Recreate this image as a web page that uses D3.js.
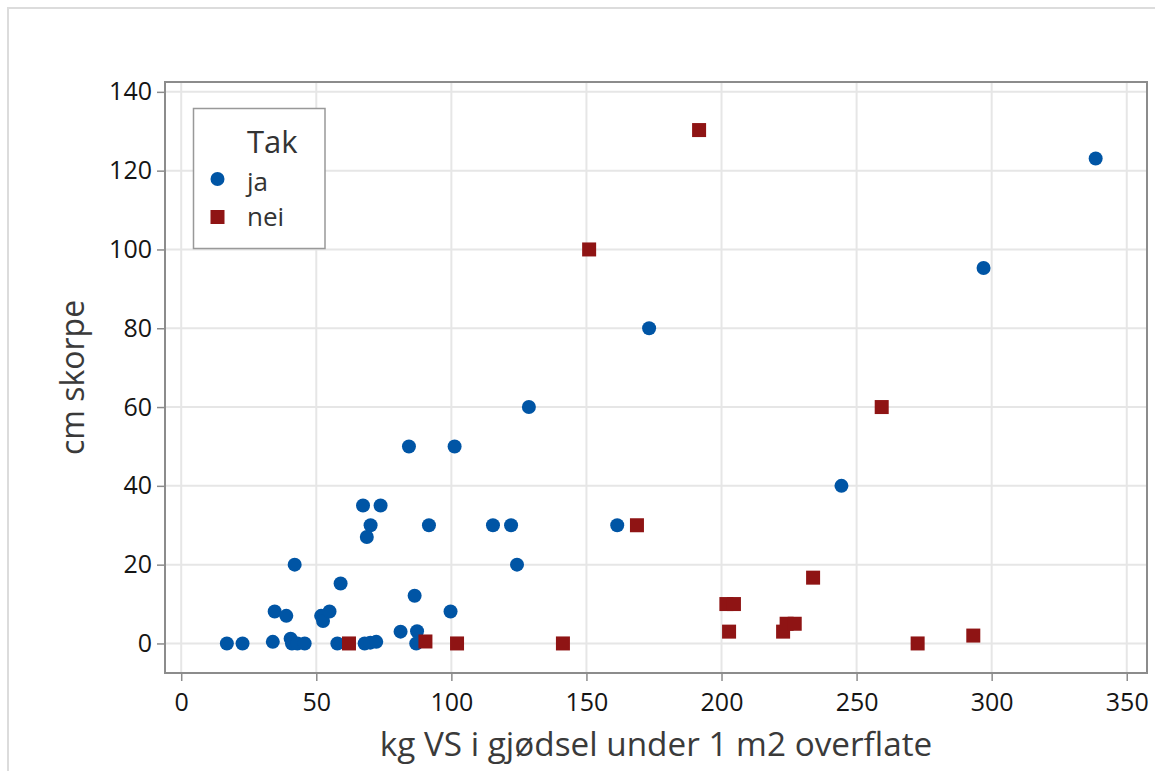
<!DOCTYPE html>
<html>
<head>
<meta charset="utf-8">
<script src="https://cdn.jsdelivr.net/npm/d3@7"></script>
<style>
  html, body { margin: 0; padding: 0; background: #fff; }
  svg { display: block; }
  svg text { font-family: "Open Sans", "Noto Sans", sans-serif; }
</style>
</head>
<body>
<svg id="chart" width="1155" height="771"></svg>
<script>
// Tak = ja (blue circles)
const jaX = [16.9, 22.7, 33.9, 34.6, 38.9, 40.5, 41.0, 43.0, 45.7, 42.0, 51.8, 52.5, 54.9, 59.0, 57.8,
             67.9, 70.0, 72.2, 67.3, 73.8, 70.1, 68.7, 91.7, 86.4, 81.2, 87.3, 87.0, 99.7, 84.3, 101.2,
             115.4, 122.1, 124.3, 128.7, 161.4, 173.2, 244.4, 297.0, 338.5];
const jaY = [0, 0, 0.4, 8.1, 7.0, 1.2, 0, 0, 0, 20, 7.0, 5.7, 8.1, 15.2, 0,
             0, 0.2, 0.4, 35, 35, 30, 27, 30, 12.1, 3.0, 3.1, 0, 8.1, 50, 50,
             30, 30, 20, 60, 30, 80, 40, 95.3, 123.1];

// Tak = nei (red squares)
const neiX = [62.1, 90.4, 102.1, 141.3, 151.0, 168.7, 191.7, 201.8, 204.6, 202.8, 222.8, 224.1, 227.1,
              233.9, 259.3, 272.6, 293.2];
const neiY = [0, 0.5, 0, 0, 100, 30, 130.3, 10, 10, 3, 3, 5, 5,
              16.7, 60, 0, 2];

const xTicks = [0, 50, 100, 150, 200, 250, 300, 350];
const yTicks = [0, 20, 40, 60, 80, 100, 120, 140];
const xTitle = "kg VS i gjødsel under 1 m2 overflate";
const yTitle = "cm skorpe";
const legendTitle = "Tak";
const groups = ["ja", "nei"];

const blue = "#0055a5";
const red = "#8f1414";
const font = '"Open Sans", "Noto Sans", sans-serif';

const svg = d3.select("#chart");

// outer frame of the graph area
svg.append("rect")
  .attr("x", 8).attr("y", 8).attr("width", 1170).attr("height", 790)
  .attr("fill", "#fff").attr("stroke", "#dcdcdc").attr("stroke-width", 2);

const L = 165, R = 1147, T = 82, B = 673;

const x = d3.scaleLinear().domain([-6, 357.5]).range([L, R]);
const y = d3.scaleLinear().domain([-7.5, 142.5]).range([B, T]);

// gridlines
const grid = svg.append("g");
grid.selectAll(".gx").data(xTicks).join("line")
  .attr("x1", d => x(d)).attr("x2", d => x(d)).attr("y1", T).attr("y2", B)
  .attr("stroke", "#e6e6e6").attr("stroke-width", 2);
grid.selectAll(".gy").data(yTicks).join("line")
  .attr("x1", L).attr("x2", R).attr("y1", d => y(d)).attr("y2", d => y(d))
  .attr("stroke", "#e6e6e6").attr("stroke-width", 2);

// axes
const xAxis = svg.append("g").attr("transform", `translate(0,${B})`)
  .call(d3.axisBottom(x).tickValues(xTicks).tickSize(8).tickPadding(12));
const yAxis = svg.append("g").attr("transform", `translate(${L},0)`)
  .call(d3.axisLeft(y).tickValues(yTicks).tickSize(8).tickPadding(5));
[xAxis, yAxis].forEach(a => {
  a.attr("font-family", font).attr("font-size", 25);
  a.select(".domain").remove();
  a.selectAll(".tick line").attr("stroke", "#8c8c8c").attr("stroke-width", 1.5);
  a.selectAll(".tick text").attr("fill", "#151515").attr("font-weight", 500);
});

// plot frame
svg.append("rect")
  .attr("x", L).attr("y", T).attr("width", R - L).attr("height", B - T)
  .attr("fill", "none").attr("stroke", "#8c8c8c").attr("stroke-width", 2);

// points
const pts = svg.append("g");
pts.selectAll("circle").data(d3.zip(jaX, jaY)).join("circle")
  .attr("cx", d => x(d[0])).attr("cy", d => y(d[1])).attr("r", 7)
  .attr("fill", blue);
const s = 14;
pts.selectAll("rect").data(d3.zip(neiX, neiY)).join("rect")
  .attr("x", d => x(d[0]) - s / 2).attr("y", d => y(d[1]) - s / 2)
  .attr("width", s).attr("height", s)
  .attr("fill", red);

// axis titles
svg.append("text")
  .attr("x", (L + R) / 2).attr("y", 756)
  .attr("text-anchor", "middle").attr("fill", "#3a3a3a")
  .style("font-size", "33.3px").text(xTitle);
svg.append("text")
  .attr("transform", `translate(84,${(T + B) / 2}) rotate(-90)`)
  .attr("text-anchor", "middle").attr("fill", "#3a3a3a")
  .style("font-size", "32px").text(yTitle);

// legend
const lg = svg.append("g");
lg.append("rect")
  .attr("x", 193.5).attr("y", 108.5).attr("width", 131.5).attr("height", 140)
  .attr("fill", "#fff").attr("stroke", "#999").attr("stroke-width", 1.5);
lg.append("text").attr("x", 247).attr("y", 153)
  .attr("fill", "#333").style("font-size", "31px").text(legendTitle);
lg.append("circle").attr("cx", 217.5).attr("cy", 179).attr("r", 7).attr("fill", blue);
lg.append("rect").attr("x", 210.5).attr("y", 210).attr("width", s).attr("height", s).attr("fill", red);
lg.append("text").attr("x", 247).attr("y", 191)
  .attr("fill", "#333").style("font-size", "26px").text(groups[0]);
lg.append("text").attr("x", 247).attr("y", 226)
  .attr("fill", "#333").style("font-size", "26px").text(groups[1]);
</script>
</body>
</html>
